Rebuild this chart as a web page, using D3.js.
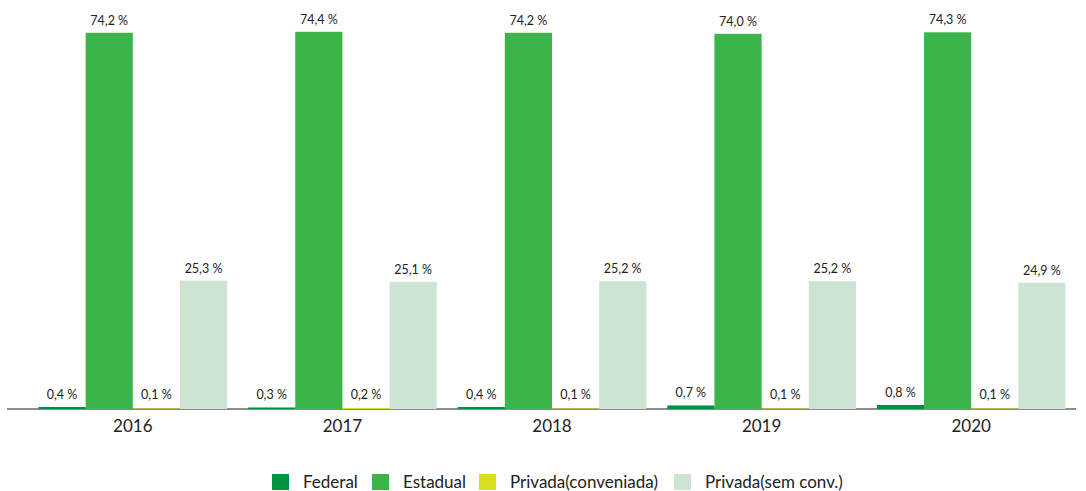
<!DOCTYPE html>
<html><head><meta charset="utf-8">
<script src="https://cdn.jsdelivr.net/npm/d3@7"></script>
<style>body{margin:0;background:#fff}svg{display:block;font-family:Lato,"Open Sans",sans-serif}</style>
</head><body><svg id="c" width="1086" height="491"></svg>
<script>
const years = ["2016","2017","2018","2019","2020"];
const seriesNames = ["Federal","Estadual","Privada(conveniada)","Privada(sem conv.)"];
const federal = [0.4,0.3,0.4,0.7,0.8];
const estadual = [74.2,74.4,74.2,74.0,74.3];
const privConv = [0.1,0.2,0.1,0.1,0.1];
const privSem = [25.3,25.1,25.2,25.2,24.9];
const colors = ["#00923F","#3BB54A","#D7DF23","#CCE4D1"];

const values = [federal, estadual, privConv, privSem];
const svg = d3.select("#c");
const baseY = 409;
const x0 = d3.scaleBand().domain(years).range([28,1076]).paddingInner(0.1).paddingOuter(0.05);
const x1 = d3.scaleBand().domain(seriesNames).range([0,x0.bandwidth()]).padding(0);
const y = d3.scaleLinear().domain([0,80]).range([baseY, baseY-80*5.07]);

// axis line
svg.append("line").attr("x1",7).attr("x2",1076).attr("y1",baseY).attr("y2",baseY)
  .attr("stroke","#8c8c8c").attr("stroke-width",2);

const data = [];
years.forEach((yr,i)=>seriesNames.forEach((s,j)=>data.push({yr,s,j,v:values[j][i]})));

svg.append("g").selectAll("rect").data(data).join("rect")
  .attr("x",d=>x0(d.yr)+x1(d.s))
  .attr("width",x1.bandwidth())
  .attr("y",d=>y(d.v))
  .attr("height",d=>baseY-y(d.v))
  .attr("fill",d=>colors[d.j]);

svg.append("g").selectAll("text").data(data).join("text")
  .attr("x",d=>x0(d.yr)+x1(d.s)+x1.bandwidth()/2)
  .attr("y",d=>Math.min(y(d.v),baseY-2)-8)
  .attr("text-anchor","middle").attr("font-size",12.5).attr("fill","#222")
  .text(d=>d.v.toFixed(1).replace(".",",")+" %");

const xAxis = d3.axisBottom(x0).tickSize(0).tickPadding(0);
const ga = svg.append("g").attr("transform",`translate(0,${baseY})`).call(xAxis);
ga.select(".domain").remove();
ga.selectAll("text").attr("y",23).attr("dy",null).attr("font-size",17).attr("fill","#222").attr("font-family","Lato,sans-serif");

// legend
const legX = [272,372,479,674];
const lg = svg.append("g");
seriesNames.forEach((s,j)=>{
  lg.append("rect").attr("x",legX[j]).attr("y",474).attr("width",17).attr("height",16).attr("fill",colors[j]);
  lg.append("text").attr("x",legX[j]+31).attr("y",488).attr("font-size",17).attr("fill","#222").text(s);
});
</script></body></html>
